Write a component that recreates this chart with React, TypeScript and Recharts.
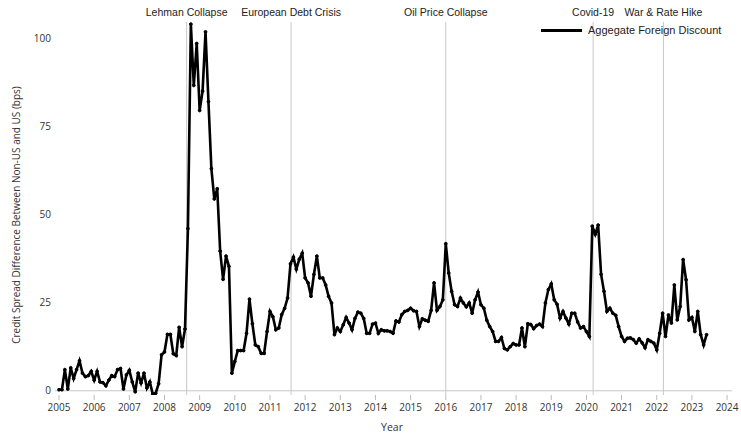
import {
  LineChart,
  Line,
  XAxis,
  YAxis,
  ReferenceLine,
} from "recharts";

// Monthly values (bps), Jan..Dec per year
const y2005 = [0.3, 0.3, 6, 0.5, 6.5, 3.5, 6, 8.5, 5, 4, 4.3, 5.5];
const y2006 = [3, 5.5, 2.5, 2.3, 1.4, 3, 4.3, 4, 6, 6.3, 0.5, 4.5];
const y2007 = [5.8, 2.5, -0.3, 5, 2.2, 5, 0.8, 2.5, -1, -0.7, 2, 10.2];
const y2008 = [11, 16, 16, 10.5, 10, 18, 12.5, 17.5, 46, 104, 86.6, 98.5];
const y2009 = [79.5, 85, 101.8, 82, 63, 54.4, 57.3, 39.6, 31.6, 38.2, 35.3, 5];
const y2010 = [8.3, 11.4, 11.4, 11.4, 16.3, 26, 19, 13, 12.5, 10.6, 10.6, 16.8];
const y2011 = [22.5, 21, 17.3, 17.8, 21.6, 23.4, 26.3, 36, 37.9, 34.5, 37.3, 39];
const y2012 = [32, 30.6, 26.8, 33, 38.2, 32, 32, 30, 26.8, 24.9, 15.9, 17.8];
const y2013 = [16.8, 18.7, 20.8, 19.2, 17.3, 20.5, 22.3, 22, 20.5, 16.3, 16.3, 18.9];
const y2014 = [19.2, 16.3, 17.3, 17, 17, 16.8, 16.3, 19.8, 19.5, 21.6, 22.5, 22.8];
const y2015 = [23.4, 22.7, 22.5, 18.2, 20.4, 20, 19.7, 22.8, 30.6, 22.8, 23.9, 25.8];
const y2016 = [41.7, 33.4, 28.2, 24.4, 23.9, 26.3, 24.9, 23.8, 24.9, 22, 25.8, 28];
const y2017 = [24.4, 23.4, 20, 18.2, 16.8, 14, 14, 15.1, 12, 11.6, 12.5, 13.4];
const y2018 = [13, 13, 17.8, 12.5, 19, 18.8, 17.6, 18.5, 18.9, 18.2, 24.9, 28.7];
const y2019 = [30.3, 25.8, 24.5, 20.6, 22.5, 20.6, 18.9, 22, 22, 19.5, 17.8, 18.2];
const y2020 = [16.8, 15.4, 46.7, 44.4, 47, 33, 28.2, 22.5, 23.4, 22, 21.4, 18.2];
const y2021 = [15.4, 14, 14.9, 15, 14.5, 13.5, 14.7, 13.6, 12.2, 14.5, 14, 13.5];
const y2022 = [11.6, 16.3, 22, 15.4, 21.5, 19.2, 30, 20.1, 23.9, 37.2, 31.5, 20.1];
const y2023 = [20.8, 16.8, 22.5, 15.9, 13, 15.9];

const years = [
  y2005, y2006, y2007, y2008, y2009, y2010, y2011, y2012, y2013, y2014,
  y2015, y2016, y2017, y2018, y2019, y2020, y2021, y2022, y2023,
];

const xTicks = [
  2005, 2006, 2007, 2008, 2009, 2010, 2011, 2012, 2013, 2014, 2015, 2016,
  2017, 2018, 2019, 2020, 2021, 2022, 2023, 2024,
];
const yTicks = [0, 25, 50, 75, 100];

const eventNames = [
  "Lehman Collapse",
  "European Debt Crisis",
  "Oil Price Collapse",
  "Covid-19",
  "War & Rate Hike",
];
const eventDates = [2008.63, 2011.6, 2016.0, 2020.19, 2022.19];

const data = years.flatMap((vals, yi) =>
  vals.map((v, m) => ({ t: 2005 + yi + m / 12, v }))
);

const tickStyle = { fontFamily: "'Open Sans', sans-serif", fontSize: 10, fill: "#333" };

export default function App() {
  return (
    <div style={{ position: "absolute", left: 0, top: 0, width: 741, height: 435, background: "#fff" }}>
      <LineChart
        width={741}
        height={435}
        data={data}
        margin={{ top: 22, right: 9, bottom: 0, left: 0 }}
      >
        <XAxis
          dataKey="t"
          type="number"
          domain={[2004.886, 2024.14]}
          allowDataOverflow
          ticks={xTicks}
          axisLine={false}
          tickLine={{ stroke: "#bbb" }}
          tickSize={5}
          tickMargin={4}
          height={40}
          tick={tickStyle}
          label={{
            content: () => (
              <text
                x={392}
                y={428}
                textAnchor="middle"
                dominantBaseline="middle"
                fontFamily="'Open Sans', sans-serif"
                fontSize={10.5}
                fill="#333"
              >
                Year
              </text>
            ),
          }}
        />
        <YAxis
          type="number"
          domain={[-1.2, 104.6]}
          allowDataOverflow
          ticks={yTicks}
          axisLine={false}
          tickLine={false}
          tickSize={0}
          tickMargin={4}
          width={55}
          tick={tickStyle}
          label={{
            content: () => (
              <text
                x={17}
                y={215}
                transform="rotate(-90 17 215)"
                textAnchor="middle"
                dominantBaseline="middle"
                fontFamily="'Open Sans', sans-serif"
                fontSize={10}
                fill="#333"
              >
                Credit Spread Difference Between Non-US and US (bps)
              </text>
            ),
          }}
        />
        <ReferenceLine y={0} stroke="#c8c8c8" strokeWidth={1} />
        {eventDates.map((d, i) => (
          <ReferenceLine
            key={eventNames[i]}
            x={d}
            stroke="#c8c8c8"
            strokeWidth={1}
            label={{
              value: eventNames[i],
              position: "top",
              offset: 6,
              fill: "#222",
              fontSize: 10.5,
              fontFamily: "'Liberation Sans', Arial, sans-serif",
            }}
          />
        ))}
        <Line
          type="linear"
          dataKey="v"
          stroke="#000"
          strokeWidth={2.6}
          dot={{ r: 1.4, fill: "#000", stroke: "#000", strokeWidth: 1 }}
          isAnimationActive={false}
        />
      </LineChart>
      <div
        style={{
          position: "absolute",
          left: 541,
          top: 24,
          display: "flex",
          alignItems: "center",
          fontFamily: "'Liberation Sans', Arial, sans-serif",
          fontSize: 11,
          color: "#222",
          whiteSpace: "nowrap",
        }}
      >
        <span style={{ display: "inline-block", width: 41, height: 3, background: "#000", marginRight: 6 }} />
        <span>Aggegate Foreign Discount</span>
      </div>
    </div>
  );
}
